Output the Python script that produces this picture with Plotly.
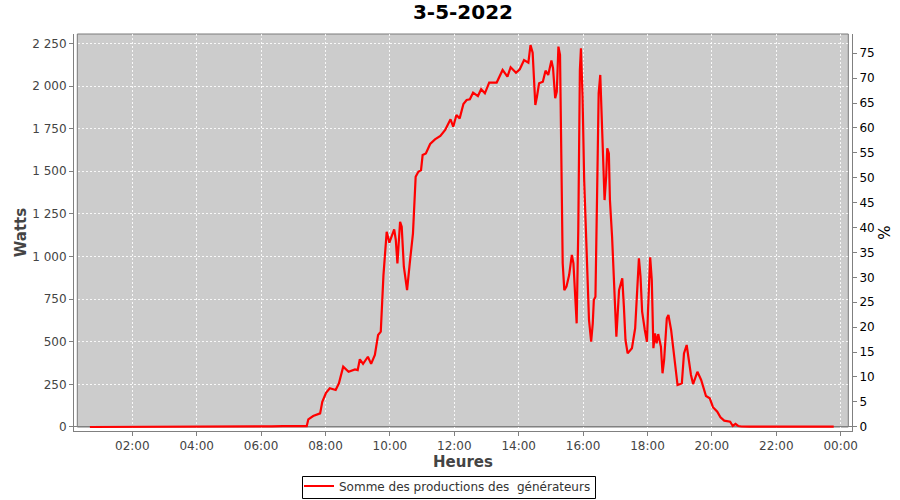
import plotly.graph_objects as go

DAY = "2022-05-03"
TITLE = "3-5-2022"
SERIES_NAME = "Somme des productions des \u00a0générateurs"

times = [
    "00:41", "01:00", "01:20", "01:40", "02:00", "02:20", "02:40", "03:00", "03:20", "03:40",
    "04:00", "04:20", "04:40", "05:00", "05:20", "05:40", "06:00", "06:20", "06:40", "07:00",
    "07:20", "07:25", "07:28", "07:37", "07:50", "07:54", "08:01", "08:08", "08:19", "08:25",
    "08:33", "08:43", "08:55", "09:00", "09:04", "09:10", "09:19", "09:25", "09:32", "09:38",
    "09:43", "09:48", "09:54", "09:59", "10:04", "10:08", "10:11", "10:14", "10:19", "10:22",
    "10:26", "10:32", "10:37", "10:43", "10:48", "10:53", "10:58", "11:01", "11:07", "11:15",
    "11:24", "11:34", "11:43", "11:53", "11:58", "12:04", "12:10", "12:17", "12:23", "12:29",
    "12:35", "12:44", "12:50", "12:57", "13:05", "13:19", "13:30", "13:39", "13:45", "13:55",
    "14:02", "14:10", "14:18", "14:22", "14:26", "14:31", "14:34", "14:38", "14:45", "14:50",
    "14:55", "15:01", "15:04", "15:08", "15:11", "15:14", "15:17", "15:20", "15:22", "15:25",
    "15:29", "15:34", "15:39", "15:42", "15:45", "15:48", "15:51", "15:54", "15:56", "15:59",
    "16:02", "16:05", "16:08", "16:11", "16:15", "16:18", "16:20", "16:23", "16:26", "16:29",
    "16:32", "16:35", "16:38", "16:40", "16:43", "16:45", "16:48", "16:50", "16:54", "16:58",
    "17:01", "17:02", "17:07", "17:13", "17:16", "17:19", "17:23", "17:31", "17:37", "17:40",
    "17:44", "17:47", "17:50", "17:55", "17:59", "18:01", "18:05", "18:08", "18:11", "18:14",
    "18:17", "18:20", "18:25", "18:28", "18:31", "18:36", "18:39", "18:44", "18:48", "18:52",
    "18:56", "19:01", "19:04", "19:08", "19:13", "19:17", "19:21", "19:25", "19:29", "19:33",
    "19:40", "19:44", "19:49", "19:56", "20:02", "20:10", "20:16", "20:23", "20:34", "20:39",
    "20:44", "20:49", "20:55", "21:10", "21:30", "22:00", "22:30", "23:00", "23:20", "23:47",
]

watts = [
    0, 0, 0, 0, 0, 0, 2, 0, 2, 0,
    0, 2, 0, 0, 0, 2, 0, 4, 5, 3,
    5, 5, 45, 64, 80, 148, 201, 227, 217, 256,
    354, 324, 338, 334, 397, 370, 412, 370, 422, 540,
    559, 891, 1145, 1081, 1126, 1159, 1097, 960, 1204, 1175,
    940, 803, 960, 1136, 1468, 1497, 1507, 1595, 1605, 1660,
    1687, 1707, 1742, 1805, 1761, 1830, 1810, 1894, 1918, 1922,
    1961, 1941, 1981, 1957, 2020, 2020, 2094, 2055, 2110, 2078,
    2098, 2152, 2137, 2240, 2195, 1889, 1937, 2016, 2025, 2090,
    2065, 2149, 2104, 1928, 1967, 2231, 2182, 1224, 960, 803,
    823, 891, 1009, 960, 745, 608, 1155, 2094, 2221, 1937,
    1449, 1155, 823, 628, 500, 608, 745, 764, 1351, 1957,
    2065, 1820, 1507, 1331, 1468, 1635, 1605, 1331, 1116, 764,
    588, 530, 803, 872, 706, 510, 432, 462, 579, 784,
    989, 882, 676, 569, 500, 686, 995, 862, 462, 549,
    491, 545, 471, 315, 393, 638, 657, 569, 452, 334,
    246, 252, 256, 432, 481, 393, 305, 252, 295, 324,
    276, 227, 182, 168, 116, 90, 57, 37, 31, 6,
    18, 6, 3, 2, 2, 2, 2, 2, 3, 2,
]

x_vals = [f"{DAY} {t}" for t in times]

FONT = "DejaVu Sans"
GRID = "rgba(255,255,255,0.85)"
AXIS = "#808080"

fig = go.Figure()
fig.add_trace(go.Scatter(
    x=x_vals, y=watts, mode="lines", name=SERIES_NAME,
    line=dict(color="#ff0000", width=2.2), showlegend=True,
))
fig.add_trace(go.Scatter(x=[], y=[], yaxis="y2", showlegend=False, hoverinfo="skip"))

fig.update_layout(
    template="none",
    width=900, height=500,
    margin=dict(l=74, r=48, t=34, b=69, autoexpand=False),
    paper_bgcolor="white", plot_bgcolor="white",
    separators=", ",
    showlegend=True,
    font=dict(family=FONT, size=12, color="#444444"),
    title=dict(text=TITLE, x=0.5, xref="paper", xanchor="center",
               y=0.976, yref="container", yanchor="middle",
               font=dict(family=FONT, size=20, color="black", weight="bold")),
    xaxis=dict(
        type="date", automargin=False,
        range=["2022-05-03 00:11:22", "2022-05-04 00:21:04"],
        tick0="2022-05-03 00:00", dtick=7200000, tickformat="%H:%M",
        showgrid=True, gridcolor=GRID, griddash="2px,2px", gridwidth=1,
        showline=True, linecolor=AXIS, linewidth=1,
        ticks="outside", ticklen=4, tickcolor=AXIS,
        tickfont=dict(size=12, color="#444444"),
        title=dict(text="Heures", standoff=4,
                   font=dict(size=15, color="#444444", weight="bold")),
        zeroline=False,
    ),
    yaxis=dict(
        automargin=False,
        range=[-23.5, 2305],
        tick0=0, dtick=250, separatethousands=True, tickformat=",d",
        showgrid=True, gridcolor=GRID, griddash="2px,2px", gridwidth=1,
        zeroline=True, zerolinecolor=AXIS, zerolinewidth=1,
        showline=True, linecolor=AXIS, linewidth=1,
        ticks="outside", ticklen=4, tickcolor=AXIS,
        tickfont=dict(size=12, color="#444444"),
        title=dict(text="Watts", standoff=1,
                   font=dict(size=15, color="#444444", weight="bold")),
    ),
    yaxis2=dict(
        automargin=False,
        overlaying="y", side="right",
        range=[-0.86, 78.87], tick0=0, dtick=5,
        showgrid=False, zeroline=False,
        showline=True, linecolor=AXIS, linewidth=1,
        ticks="outside", ticklen=4, tickcolor=AXIS,
        tickfont=dict(size=12, color="black"),
        title=dict(text="%", standoff=5, font=dict(size=15, color="black")),
    ),
    legend=dict(
        orientation="h", x=(299 - 74) / 778, xanchor="left",
        y=-(486 - 431) / 397, yanchor="middle",
        borderwidth=0, bgcolor="rgba(0,0,0,0)",
        font=dict(size=12, color="#333333"),
    ),
    shapes=[
        dict(type="rect", xref="paper", yref="paper", layer="below",
             x0=(77.3 - 74) / 778, x1=(848.3 - 74) / 778, y0=4 / 397, y1=1,
             fillcolor="#cccccc", line=dict(color="#7a7a7a", width=1)),
        # legend frame
        dict(type="rect", xref="paper", yref="paper", layer="below",
             x0=(302.5 - 74) / 778, x1=(595.5 - 74) / 778,
             y0=-(498.5 - 431) / 397, y1=-(476.5 - 431) / 397,
             fillcolor="white", line=dict(color="black", width=1)),
    ],
)

fig.write_html(
    "out.html",
    config={"displayModeBar": False},
    post_script="document.body.style.margin='0px';document.body.style.overflow='hidden';",
)
